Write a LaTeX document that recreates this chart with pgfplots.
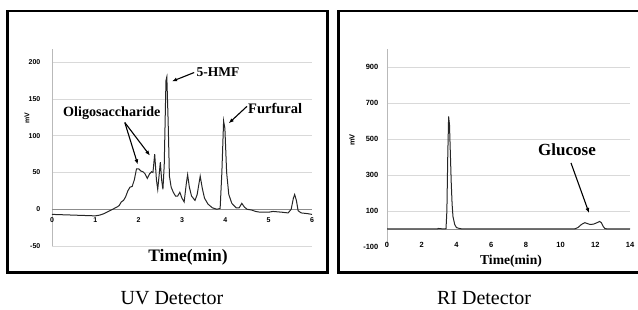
\documentclass[border=0pt]{standalone}
\usepackage{fontspec}
\setmainfont{Liberation Serif}
\setsansfont{Liberation Sans}
\usepackage{pgfplots}
\usepackage{pgfplotstable}
\pgfplotsset{compat=1.18}
\usetikzlibrary{arrows.meta}

\pgfplotstableread{
x y
0 -7
0.5 -8
1.0 -9
1.1 -8
1.2 -6
1.3 -3
1.4 0
1.5 3
1.55 5
1.6 10
1.65 12
1.7 17
1.75 25
1.8 30
1.85 31
1.9 40
1.95 55
2.0 55
2.05 52
2.1 51
2.15 48
2.2 42
2.25 48
2.3 51
2.33 50
2.37 75
2.41 40
2.44 27
2.47 45
2.5 64
2.53 40
2.56 27
2.59 60
2.63 175
2.65 180
2.68 120
2.71 45
2.75 30
2.8 23
2.85 18
2.9 18
2.95 23
3.0 15
3.05 10
3.1 35
3.13 47
3.17 30
3.22 18
3.3 12
3.35 20
3.42 45
3.47 28
3.52 15
3.6 7
3.7 2
3.8 0
3.88 1
3.92 50
3.96 120
3.99 110
4.03 50
4.08 20
4.15 8
4.25 2
4.32 2
4.38 8
4.44 3
4.5 0
4.6 -1
4.7 -3
4.8 -4
5.0 -4
5.1 -3
5.3 -4
5.45 -5
5.52 0
5.57 15
5.6 20
5.64 12
5.68 -2
5.75 -5
5.9 -6
6.0 -7
}\uvdata

\pgfplotstableread{
x y
0 0
2.9 0
2.95 3
3.05 2
3.3 0
3.4 2
3.45 100
3.5 400
3.55 625
3.6 580
3.65 420
3.7 260
3.75 140
3.8 70
3.9 25
4.0 8
4.2 2
4.4 0
10.8 0
11.0 8
11.2 25
11.4 35
11.55 30
11.7 25
11.9 27
12.1 35
12.25 42
12.35 35
12.45 15
12.55 3
12.7 0
14 0
}\ridata

\begin{document}
\begin{tikzpicture}[x=1pt,y=1pt]
\useasboundingbox (0,0) rectangle (638,310);
\draw[line width=2.6pt] (7.5,37.5) rectangle (327.5,299);
\draw[line width=2.6pt] (338.5,37.5) rectangle (642,299);

\begin{axis}[
  at={(52pt,64pt)}, anchor=south west, scale only axis,
  width=260pt, height=197pt,
  xmin=0, xmax=6, ymin=-50, ymax=218,
  axis x line=bottom, axis y line=left,
  axis line style={-, gray!55, line width=0.6pt},
  x axis line style={draw=none},
  xtick={0,1,2,3,4,5,6}, xticklabels={0,1,2,3,4,5,6},
  ytick={-50,0,50,100,150,200}, yticklabels={-50,0,50,100,150,200},
  ymajorgrids, grid style={gray!30, line width=0.6pt},
  tick style={draw=none},
  ticklabel style={font=\sffamily\bfseries\fontsize{7}{8}\selectfont},
  yticklabel style={xshift=-6pt},
  xticklabel style={yshift=34pt},
  clip=false,
]
\addplot[gray!90, line width=0.7pt] coordinates {(0,0) (6,0)};
\addplot[black!85, line width=1pt] table[x=x,y=y] {\uvdata};
\node[font=\bfseries\fontsize{13.5}{15}\selectfont] at (axis cs:3.83,186) {5-HMF};
\draw[-{Latex[length=5pt,width=4pt]}, line width=1.1pt] (axis cs:3.28,186) -- (axis cs:2.77,174);
\node[font=\bfseries\fontsize{14.5}{16}\selectfont] at (axis cs:5.15,137) {Furfural};
\draw[-{Latex[length=5pt,width=4pt]}, line width=1.1pt] (axis cs:4.5,140) -- (axis cs:4.08,117);
\node[font=\bfseries\fontsize{14.1}{16}\selectfont] at (axis cs:1.38,131) {Oligosaccharide};
\draw[-{Latex[length=5pt,width=4pt]}, line width=1.1pt] (axis cs:1.68,118) -- (axis cs:1.98,61);
\draw[-{Latex[length=5pt,width=4pt]}, line width=1.1pt] (axis cs:1.68,118) -- (axis cs:2.26,73);
\end{axis}

\begin{axis}[
  at={(387pt,63pt)}, anchor=south west, scale only axis,
  width=243pt, height=198pt,
  xmin=0, xmax=14, ymin=-100, ymax=1000,
  axis x line=bottom, axis y line=left,
  axis line style={-, gray!55, line width=0.6pt},
  x axis line style={draw=none},
  xtick={0,2,4,6,8,10,12,14}, xticklabels={0,2,4,6,8,10,12,14},
  ytick={100,300,500,700,900}, yticklabels={100,300,500,700,900},
  extra y ticks={-100}, extra y tick labels={-100},
  extra y tick style={grid=none},
  ymajorgrids, grid style={gray!30, line width=0.6pt},
  tick style={draw=none},
  ticklabel style={font=\sffamily\bfseries\fontsize{7.5}{8}\selectfont},
  yticklabel style={xshift=-3pt},
  xticklabel style={yshift=10pt},
  clip=false,
]
\addplot[gray!90, line width=0.7pt] coordinates {(0,0) (14,0)};
\addplot[black!85, line width=1pt] table[x=x,y=y] {\ridata};
\node[font=\bfseries\fontsize{17}{19}\selectfont] at (axis cs:10.37,439) {Glucose};
\draw[-{Latex[length=5pt,width=4pt]}, line width=1.1pt] (axis cs:10.6,367) -- (axis cs:11.64,89);
\end{axis}

\node[rotate=90, font=\sffamily\bfseries\fontsize{7}{8}\selectfont] at (27,192) {mV};
\node[rotate=90, font=\sffamily\bfseries\fontsize{7.5}{8}\selectfont] at (352,170) {mV};
\node[font=\bfseries\fontsize{17.5}{19}\selectfont] at (188,53) {Time(min)};
\node[font=\bfseries\fontsize{13.6}{15}\selectfont] at (511,49) {Time(min)};
\node[anchor=base, font=\fontsize{20}{22}\selectfont] at (172,5) {UV Detector};
\node[anchor=base, font=\fontsize{20}{22}\selectfont] at (484,5) {RI Detector};
\end{tikzpicture}
\end{document}
